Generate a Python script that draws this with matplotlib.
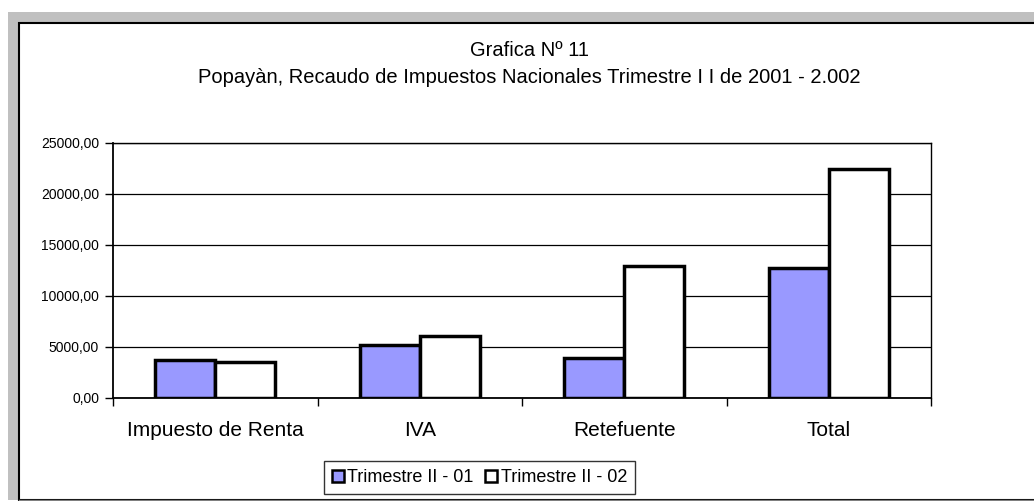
import matplotlib
matplotlib.use("Agg")
import matplotlib.pyplot as plt
from matplotlib.patches import Rectangle
import numpy as np

plt.rcParams['font.family'] = ['Liberation Sans', 'DejaVu Sans']

# data
categorias = ["Impuesto de Renta", "IVA", "Retefuente", "Total"]
trimestre_01 = [3640, 5130, 3920, 12690]
trimestre_02 = [3500, 6030, 12870, 22400]
series_labels = ["Trimestre II - 01", "Trimestre II - 02"]
y_ticks = [0, 5000, 10000, 15000, 20000, 25000]
y_tick_labels = ["0,00", "5000,00", "10000,00", "15000,00", "20000,00", "25000,00"]
titulo_1 = "Grafica Nº 11"
titulo_2 = "Popayàn, Recaudo de Impuestos Nacionales Trimestre I I de 2001 - 2.002"

W, H = 1034, 501
fig = plt.figure(figsize=(W / 100, H / 100), dpi=100)
fig.patch.set_facecolor("white")

# chart frame (gray shadow + black border), in pixel units
def px(x, y):
    return x / W, 1 - y / H

fig.patches.append(Rectangle(px(8, 500), (W - 8) / W, (500 - 12) / H,
                             transform=fig.transFigure, facecolor="#c0c0c0",
                             edgecolor="none", zorder=-3))
fig.patches.append(Rectangle(px(19, 500), (W + 5 - 19) / W, (500 - 22.5) / H,
                             transform=fig.transFigure, facecolor="white",
                             edgecolor="black", linewidth=1.5, zorder=-2))
fig.add_artist(plt.Line2D([19 / W, 1], [1 - 500 / H, 1 - 500 / H],
                          transform=fig.transFigure, color="#808080", linewidth=1))

ax = fig.add_axes([113 / W, 1 - 397.5 / H, (931 - 113) / W, (397.5 - 143) / H])
ax.set_zorder(2)
ax.set_facecolor("white")

x = np.arange(len(categorias))
w = 0.293
ax.bar(x - w / 2, trimestre_01, width=w, color="#9999ff", edgecolor="black",
       linewidth=2.5, label=series_labels[0], zorder=3)
ax.bar(x + w / 2, trimestre_02, width=w, color="white", edgecolor="black",
       linewidth=2.5, label=series_labels[1], zorder=3)

ax.set_xlim(-0.5, len(categorias) - 0.5)
ax.set_ylim(0, 25000)
ax.set_yticks(y_ticks)
ax.set_yticklabels(y_tick_labels, fontsize=10)
ax.yaxis.grid(True, color="black", linewidth=0.9)
ax.set_axisbelow(True)

# category ticks at the boundaries, labels in the middle
ax.set_xticks(np.arange(len(categorias) + 1) - 0.5)
ax.set_xticklabels([])
ax.set_xticks(x, minor=True)
ax.set_xticklabels(categorias, minor=True, fontsize=15)
ax.tick_params(axis="x", which="minor", length=0, pad=17)
ax.tick_params(axis="x", which="major", length=6, width=1, direction="out")
ax.tick_params(axis="y", length=6, width=1, direction="out", pad=4)

for s in ax.spines.values():
    s.set_color("black")
    s.set_linewidth(1)
ax.spines["left"].set_linewidth(1.3)
ax.spines["bottom"].set_linewidth(1.3)

fig.text(529.5 / W, 1 - 51 / H, titulo_1, ha="center", va="center", fontsize=14.5)
fig.text(529.5 / W, 1 - 77 / H, titulo_2, ha="center", va="center", fontsize=14.5)

leg = fig.legend(loc="center", bbox_to_anchor=(479.5 / W, 1 - 477.5 / H), ncol=2,
                 fontsize=13, frameon=True, fancybox=False, handlelength=0.65,
                 handleheight=0.65, handletextpad=0.2, columnspacing=0.65,
                 borderpad=0.45, borderaxespad=0)
leg.get_frame().set_edgecolor("black")
leg.get_frame().set_linewidth(1)
for h in leg.legend_handles:
    h.set_linewidth(1.8)

fig.savefig("out.png", dpi=100)
